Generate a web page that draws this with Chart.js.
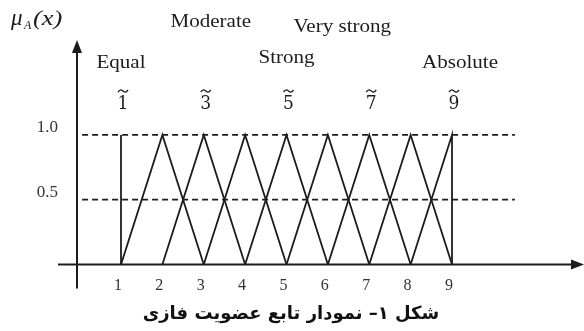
<!DOCTYPE html>
<html>
<head>
<meta charset="utf-8">
<script src="https://cdn.jsdelivr.net/npm/chart.js@4/dist/chart.umd.min.js"></script>
<style>
  html, body { margin: 0; padding: 0; background: #fff; }
  canvas { display: block; }
</style>
</head>
<body>
<canvas id="fuzzyChart" width="584" height="331"></canvas>
<script>
// Saaty scale and its triangular fuzzy numbers (l, m, u)
const scaleTicks = [1, 2, 3, 4, 5, 6, 7, 8, 9];
const fuzzyNumbers = [
    [1, 1, 1], [1, 2, 3], [2, 3, 4], [3, 4, 5], [4, 5, 6],
    [5, 6, 7], [6, 7, 8], [7, 8, 9], [8, 9, 9]
];
const levelTicks = [0.5, 1.0];
const levelNames = ['Equal', 'Moderate', 'Strong', 'Very strong', 'Absolute'];
const levelValues = [1, 3, 5, 7, 9];
const caption = 'شکل ۱– نمودار تابع عضویت فازی';

const ink = '#1c1c1c';

function drawTilde(ctx, cx, cy, w) {
    ctx.beginPath();
    ctx.moveTo(cx - w / 2, cy + 1);
    ctx.bezierCurveTo(cx - w / 4, cy - 2.5, cx - w / 8, cy - 1, cx, cy);
    ctx.bezierCurveTo(cx + w / 8, cy + 1, cx + w / 4, cy + 2.5, cx + w / 2, cy - 1);
    ctx.stroke();
}

function stretchedText(ctx, text, cx, baseline, sx) {
    ctx.save();
    ctx.translate(cx, baseline);
    ctx.scale(sx, 1);
    ctx.textAlign = 'center';
    ctx.textBaseline = 'alphabetic';
    ctx.fillText(text, 0, 0);
    ctx.restore();
}

const decor = {
    id: 'decor',
    beforeDatasetsDraw(chart) {
        const { ctx, chartArea: a, scales: { y } } = chart;
        const y0 = y.getPixelForValue(0);
        ctx.save();
        ctx.strokeStyle = ink;
        ctx.fillStyle = ink;
        ctx.lineWidth = 2;
        // y axis with arrow
        ctx.beginPath();
        ctx.moveTo(a.left, y0 + 24);
        ctx.lineTo(a.left, a.top + 8);
        ctx.stroke();
        ctx.beginPath();
        ctx.moveTo(a.left, a.top);
        ctx.lineTo(a.left - 5, a.top + 13);
        ctx.lineTo(a.left + 5, a.top + 13);
        ctx.closePath();
        ctx.fill();
        // x axis with arrow
        ctx.beginPath();
        ctx.moveTo(a.left - 19, y0);
        ctx.lineTo(a.right - 6, y0);
        ctx.stroke();
        ctx.beginPath();
        ctx.moveTo(a.right + 2, y0);
        ctx.lineTo(a.right - 11, y0 - 5);
        ctx.lineTo(a.right - 11, y0 + 5);
        ctx.closePath();
        ctx.fill();
        ctx.restore();
    },
    afterDraw(chart) {
        const { ctx, scales: { x } } = chart;
        ctx.save();
        ctx.fillStyle = ink;
        ctx.strokeStyle = ink;

        // axis title mu_A(x)
        ctx.textAlign = 'left';
        ctx.textBaseline = 'alphabetic';
        ctx.font = 'italic 23px "Liberation Serif"';
        ctx.fillText('μ', 11, 25);
        ctx.font = 'italic 12px "Liberation Serif"';
        ctx.fillText('A', 24, 29);
        ctx.font = 'italic 22px "Liberation Serif"';
        ctx.save();
        ctx.translate(33, 25);
        ctx.scale(1.2, 1);
        ctx.fillText('(x)', 0, 0);
        ctx.restore();

        // verbal scale names
        const nameLayout = [[0, 68], [7, 27], [0, 63], [-27, 32], [8, 68]];
        ctx.font = '18px "Liberation Serif"';
        levelNames.forEach((name, i) => {
            const cx = x.getPixelForValue(levelValues[i]) + nameLayout[i][0];
            stretchedText(ctx, name, cx, nameLayout[i][1], 1.17);
        });

        // fuzzy number symbols with tilde
        ctx.font = '18px "DejaVu Serif"';
        ctx.lineWidth = 1.3;
        levelValues.forEach(v => {
            const cx = x.getPixelForValue(v) + 2;
            stretchedText(ctx, String(v), cx, 109, 0.95);
            drawTilde(ctx, cx, 91, 10);
        });
        ctx.restore();
    }
};

const lineStyle = {
    borderColor: ink,
    borderWidth: 1.8,
    pointRadius: 0,
    fill: false,
    tension: 0
};

const datasets = [];
levelTicks.forEach(level => {
    datasets.push({
        data: [{ x: 0.06, y: level }, { x: 10.52, y: level }],
        borderColor: ink,
        borderWidth: 1.6,
        borderDash: [6, 4],
        pointRadius: 0,
        fill: false
    });
});
fuzzyNumbers.forEach(([l, m, u]) => {
    datasets.push(Object.assign({
        data: [{ x: l, y: 0 }, { x: m, y: 1 }, { x: u, y: 0 }]
    }, lineStyle));
});

new Chart(document.getElementById('fuzzyChart'), {
    type: 'line',
    data: { datasets },
    options: {
        responsive: false,
        devicePixelRatio: 1,
        animation: false,
        layout: { padding: { top: 40, right: 2, left: 0, bottom: 0 } },
        scales: {
            x: {
                type: 'linear',
                min: -0.0634,
                max: 12.142,
                afterBuildTicks: s => { s.ticks = scaleTicks.map(v => ({ value: v })); },
                afterFit: s => { s.height = 33; },
                grid: { display: false, drawTicks: false },
                border: { display: false },
                ticks: {
                    padding: 12,
                    labelOffset: -3,
                    color: '#333',
                    font: { family: 'Liberation Serif', size: 16 }
                }
            },
            y: {
                type: 'linear',
                min: 0,
                max: 1.733,
                afterBuildTicks: s => { s.ticks = levelTicks.map(v => ({ value: v })); },
                afterFit: s => { s.width = 77; },
                grid: { display: false, drawTicks: false },
                border: { display: false },
                ticks: {
                    padding: 19,
                    labelOffset: -7,
                    color: '#333',
                    font: { family: 'Liberation Serif', size: 17 },
                    callback: v => v.toFixed(1)
                }
            }
        },
        plugins: {
            legend: { display: false },
            tooltip: { enabled: false },
            title: {
                display: true,
                position: 'bottom',
                text: caption,
                color: '#111',
                font: { family: 'DejaVu Sans', size: 18, weight: 'bold', lineHeight: 1.2 },
                padding: { top: 6, bottom: 6 }
            }
        }
    },
    plugins: [decor]
});
</script>
</body>
</html>
